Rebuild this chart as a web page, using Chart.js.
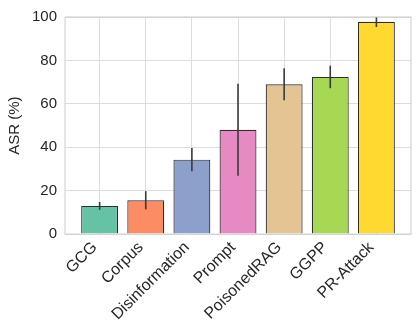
<!DOCTYPE html>
<html>
<head>
<meta charset="utf-8">
<script src="https://cdn.jsdelivr.net/npm/chart.js@4.4.1/dist/chart.umd.min.js"></script>
<style>
  html, body { margin: 0; padding: 0; background: #fff; }
  #wrap { width: 420px; height: 336px; }
</style>
</head>
<body>
<div id="wrap"><canvas id="asrChart"></canvas></div>
<script>
const methods = ["GCG", "Corpus", "Disinformation", "Prompt", "PoisonedRAG", "GGPP", "PR-Attack"];
const asrMean = [13.0, 15.6, 34.3, 48.1, 69.0, 72.4, 97.8];
const asrErr = [1.8, 4.2, 5.4, 21.2, 7.4, 5.2, 2.4];
const barColors = ["#66c2a5", "#fc8d62", "#8da0cb", "#e78ac3", "#e5c494", "#a6d854", "#ffd92f"];
const yTicks = [0, 20, 40, 60, 80, 100];

// seaborn-style frame on all four sides
const framePlugin = {
  id: "frame",
  afterDraw(chart) {
    const { ctx, chartArea } = chart;
    ctx.save();
    ctx.strokeStyle = "#cccccc";
    ctx.lineWidth = 1;
    ctx.strokeRect(chartArea.left, chartArea.top, chartArea.right - chartArea.left, chartArea.bottom - chartArea.top);
    ctx.restore();
  },
};

// vertical error bars, no caps
const errorBarPlugin = {
  id: "errorBars",
  afterDatasetsDraw(chart) {
    const { ctx, chartArea, scales } = chart;
    ctx.save();
    ctx.beginPath();
    ctx.rect(chartArea.left, chartArea.top, chartArea.right - chartArea.left, chartArea.bottom - chartArea.top);
    ctx.clip();
    ctx.strokeStyle = "#3a3a3a";
    ctx.lineWidth = 1.6;
    asrMean.forEach((m, i) => {
      const x = scales.x.getPixelForValue(i);
      ctx.beginPath();
      ctx.moveTo(x, scales.y.getPixelForValue(m - asrErr[i]));
      ctx.lineTo(x, scales.y.getPixelForValue(m + asrErr[i]));
      ctx.stroke();
    });
    ctx.restore();
  },
};

const ctx = document.getElementById("asrChart").getContext("2d");
const asrChart = new Chart(ctx, {
  type: "bar",
  data: {
    datasets: [
      {
        label: "ASR",
        data: asrMean.map((v, i) => ({ x: i, y: v })),
        backgroundColor: barColors,
        borderColor: "#2e2e2e",
        borderWidth: 1.2,
        barPercentage: 0.8,
        categoryPercentage: 1.0,
      },
    ],
  },
  options: {
    responsive: true,
    maintainAspectRatio: false,
    animation: false,
    layout: {
      padding: { left: 6, right: 9, top: 7, bottom: 8 },
    },
    scales: {
      x: {
        type: "linear",
        min: -0.75,
        max: 6.75,
        offset: false,
        grid: { color: "#dddddd", lineWidth: 1, drawTicks: false, offset: false },
        border: { display: false },
        ticks: {
          stepSize: 1,
          includeBounds: false,
          autoSkip: false,
          maxRotation: 45,
          minRotation: 45,
          padding: 4,
          labelOffset: -5,
          color: "#262626",
          font: { family: "Liberation Sans, Arial, sans-serif", size: 16 },
          callback: (value) => methods[value],
        },
      },
      y: {
        min: 0,
        max: 100,
        afterBuildTicks: (axis) => {
          axis.ticks = yTicks.map((v) => ({ value: v }));
        },
        grid: { color: "#dddddd", lineWidth: 1, drawTicks: false },
        border: { display: false },
        ticks: {
          padding: 8,
          color: "#262626",
          font: { family: "Liberation Sans, Arial, sans-serif", size: 15 },
        },
        title: {
          display: true,
          text: "ASR (%)",
          color: "#262626",
          padding: { top: 0, bottom: 0 },
          font: { family: "Liberation Sans, Arial, sans-serif", size: 15 },
        },
      },
    },
    plugins: {
      legend: { display: false },
      tooltip: { enabled: false },
    },
  },
  plugins: [framePlugin, errorBarPlugin],
});
</script>
</body>
</html>
